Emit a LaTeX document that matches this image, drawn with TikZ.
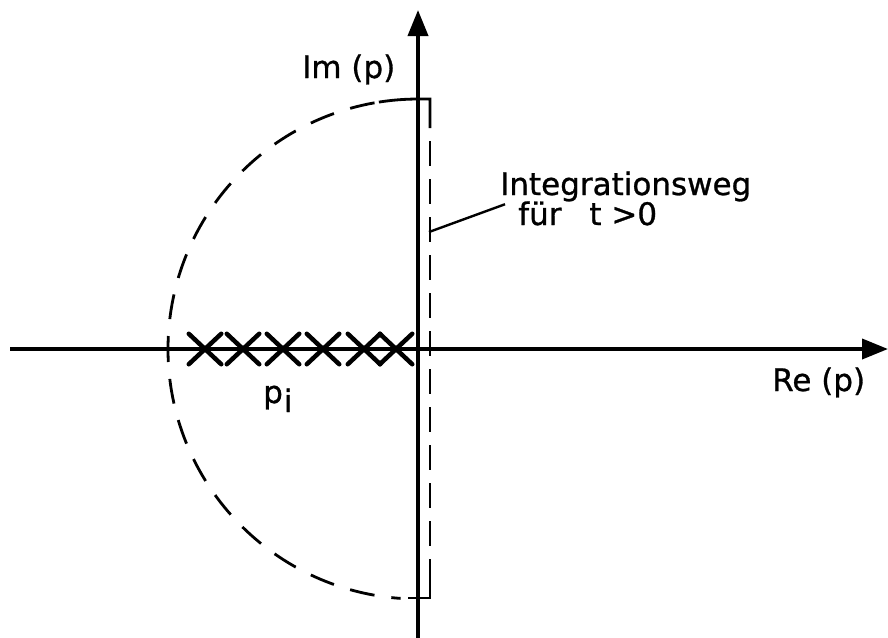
\documentclass[tikz,border=0pt]{standalone}
\usepackage{fontspec}
\setmainfont{DejaVu Sans}
\newfontfamily\lblfont{DejaVu Sans}[FakeBold=0.9]
\usetikzlibrary{arrows.meta,positioning,calc,shapes.misc}

\begin{document}
\begin{tikzpicture}[x=1pt,y=-1pt,
  >={Triangle[length=26pt,width=20pt]},
  axis/.style={line width=3.8pt},
  contour/.style={line width=2.8pt,dash pattern=on 25pt off 17pt},
  vcontour/.style={line width=2.8pt,dash pattern=on 25pt off 13pt},
  pole/.style={cross out,draw,line width=4.5pt,line cap=round,minimum width=28pt,minimum height=26pt,inner sep=0pt},
  lbl/.style={font=\lblfont\fontsize{31}{37}\selectfont,inner sep=0pt}]

\useasboundingbox (0,0) rectangle (888,637);

%% Axes of the p-plane
\coordinate (O) at (418,349);
\coordinate (xl) at (10,349);
\coordinate (xr) at (888,349);
\coordinate (yb) at (418,640);
\coordinate (yt) at (418,10);
\draw[axis,->] (xl) -- (xr);
\draw[axis,->] (yb) -- (yt);

%% Integration contour (half circle + line right of the axis)
\coordinate (A) at (168,349);
\coordinate (T) at (430,99);
\coordinate (B) at (430,598);
\coordinate (Tv) at (430,128);
\coordinate (Bv) at (430,572);
\draw[contour,dash phase=12pt] (A) arc[start angle=180,end angle=261,radius=250];
\draw[contour,dash phase=12pt] (A) arc[start angle=180,end angle=94,radius=250];
\draw[line width=2.8pt] (378.9,102.1) arc[start angle=261,end angle=270,radius=250] -- (T) -- (Tv);
\draw[line width=2.8pt] (408,598) -- (B) -- (Bv);
\draw[vcontour,dash phase=25pt] (Tv) -- (Bv);

%% Poles p_i on the negative real axis
\foreach \px [count=\k] in {205,243,283,323,364,396}{
  \node[pole] (p\k) at (\px,349) {};
}

%% Labels
\node[lbl,anchor=base west] (im) at (302,78) {Im (p)};
\node[lbl,anchor=base west] (re) at (772,391) {Re (p)};
\node[lbl,anchor=base west] (pi) at (263,403) {p\kern1pt\raisebox{-9pt}{i}};
\node[lbl,anchor=base west] (iw) at (500,195) {Integrationsweg};
\node[lbl,anchor=base west] (tt) at (518,225) {für\hspace{0.9em}t >0};

%% Leader to the contour
\coordinate (lead) at (429,232);
\draw[line width=2.4pt] (lead) -- ($(tt.north west)+(-13,3)$);

\end{tikzpicture}
\end{document}
